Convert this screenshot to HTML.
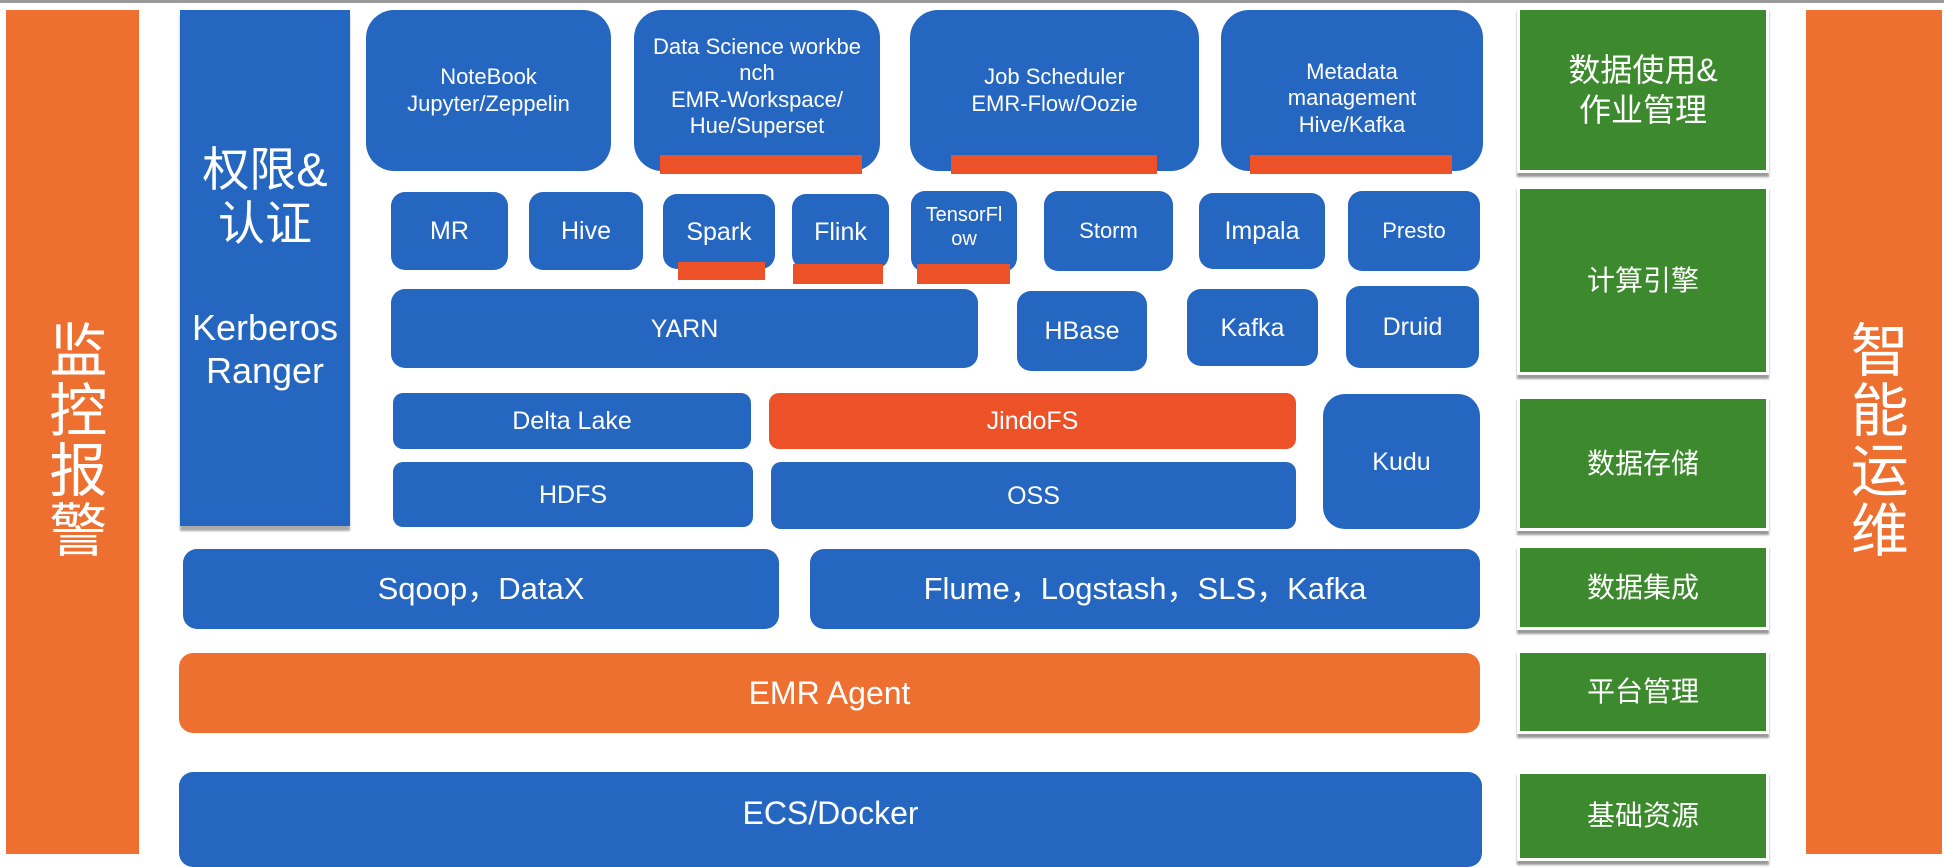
<!DOCTYPE html>
<html><head><meta charset="utf-8"><style>
body{margin:0;width:1944px;height:854px;background:#fff;position:relative;overflow:hidden;font-family:"Liberation Sans","Noto Sans CJK SC",sans-serif;color:#fff}
div.b{position:absolute;display:flex;align-items:center;justify-content:center;text-align:center;box-sizing:border-box;line-height:1.2}
.bl{background:#2566c0;border-radius:14px}
.r{background:#ec5128}
.g{background:#3d8a2e;border:3px solid #fff;box-shadow:0 4px 2px #999;font-size:28px}
.o{background:#ee7030}
.v{writing-mode:vertical-rl;letter-spacing:2px}
</style></head><body>
<div style="position:absolute;left:0;top:0;width:1944px;height:3px;background:#999"></div>
<div class="b o v" style="left:6px;top:10px;width:133px;height:844px;font-size:58px;padding-top:16px">监控报警</div>
<div class="b o v" style="left:1806px;top:10px;width:136px;height:844px;font-size:58px;padding-top:16px">智能运维</div>
<div class="b" style="left:180px;top:10px;width:170px;height:516px;background:#2566c0;box-shadow:0 5px 2px #aaa;flex-direction:column;justify-content:flex-start">
<div style="font-size:47px;margin-top:133px;line-height:1.15">权限&amp;<br>认证</div>
<div style="font-size:36px;margin-top:55px;line-height:1.2">Kerberos<br>Ranger</div></div>

<div class="b bl" style="left:366px;top:10px;width:245px;height:161px;border-radius:28px;font-size:22px">NoteBook<br>Jupyter/Zeppelin</div>
<div class="b bl" style="left:634px;top:10px;width:246px;height:161px;border-radius:28px;font-size:22px;padding-bottom:8px">Data Science workbe<br>nch<br>EMR-Workspace/<br>Hue/Superset</div>
<div class="b r" style="left:660px;top:155px;width:202px;height:19px"></div>
<div class="b bl" style="left:910px;top:10px;width:289px;height:161px;border-radius:28px;font-size:22px;padding-bottom:0px">Job Scheduler<br>EMR-Flow/Oozie</div>
<div class="b r" style="left:951px;top:155px;width:206px;height:19px"></div>
<div class="b bl" style="left:1221px;top:10px;width:262px;height:161px;border-radius:28px;font-size:22px;padding-top:16px">Metadata<br>management<br>Hive/Kafka</div>
<div class="b r" style="left:1250px;top:155px;width:202px;height:19px"></div>

<div class="b bl" style="left:391px;top:192px;width:117px;height:78px;font-size:25px">MR</div>
<div class="b bl" style="left:529px;top:192px;width:114px;height:78px;font-size:25px">Hive</div>
<div class="b bl" style="left:663px;top:194px;width:112px;height:75px;font-size:25px">Spark</div>
<div class="b r" style="left:678px;top:262px;width:87px;height:18px"></div>
<div class="b bl" style="left:792px;top:194px;width:97px;height:75px;font-size:25px">Flink</div>
<div class="b r" style="left:793px;top:264px;width:90px;height:20px"></div>
<div class="b bl" style="left:911px;top:191px;width:106px;height:81px;font-size:20px;padding-bottom:10px">TensorFl<br>ow</div>
<div class="b r" style="left:917px;top:264px;width:93px;height:20px"></div>
<div class="b bl" style="left:1044px;top:191px;width:129px;height:80px;font-size:22px">Storm</div>
<div class="b bl" style="left:1199px;top:193px;width:126px;height:76px;font-size:25px">Impala</div>
<div class="b bl" style="left:1348px;top:191px;width:132px;height:80px;font-size:22px">Presto</div>

<div class="b bl" style="left:391px;top:289px;width:587px;height:79px;font-size:25px">YARN</div>
<div class="b bl" style="left:1017px;top:291px;width:130px;height:80px;font-size:25px">HBase</div>
<div class="b bl" style="left:1187px;top:289px;width:131px;height:77px;font-size:25px">Kafka</div>
<div class="b bl" style="left:1346px;top:286px;width:133px;height:82px;font-size:25px">Druid</div>

<div class="b bl" style="left:393px;top:393px;width:358px;height:56px;font-size:25px;border-radius:10px">Delta Lake</div>
<div class="b r" style="left:769px;top:393px;width:527px;height:56px;font-size:25px;border-radius:10px">JindoFS</div>
<div class="b bl" style="left:1323px;top:394px;width:157px;height:135px;font-size:25px;border-radius:22px">Kudu</div>
<div class="b bl" style="left:393px;top:462px;width:360px;height:65px;font-size:25px;border-radius:10px">HDFS</div>
<div class="b bl" style="left:771px;top:462px;width:525px;height:67px;font-size:25px;border-radius:10px">OSS</div>

<div class="b bl" style="left:183px;top:549px;width:596px;height:80px;font-size:31px">Sqoop，DataX</div>
<div class="b bl" style="left:810px;top:549px;width:670px;height:80px;font-size:31px">Flume，Logstash，SLS，Kafka</div>
<div class="b o" style="left:179px;top:653px;width:1301px;height:80px;font-size:32px;border-radius:14px">EMR Agent</div>
<div class="b bl" style="left:179px;top:772px;width:1303px;height:95px;font-size:32px;padding-bottom:12px">ECS/Docker</div>

<div class="b g" style="left:1517px;top:7px;width:252px;height:166px;font-size:32px;line-height:1.25">数据使用&amp;<br>作业管理</div>
<div class="b g" style="left:1517px;top:186px;width:252px;height:189px">计算引擎</div>
<div class="b g" style="left:1517px;top:396px;width:252px;height:135px">数据存储</div>
<div class="b g" style="left:1517px;top:545px;width:252px;height:85px">数据集成</div>
<div class="b g" style="left:1517px;top:650px;width:252px;height:84px">平台管理</div>
<div class="b g" style="left:1517px;top:771px;width:252px;height:90px">基础资源</div>
</body></html>
